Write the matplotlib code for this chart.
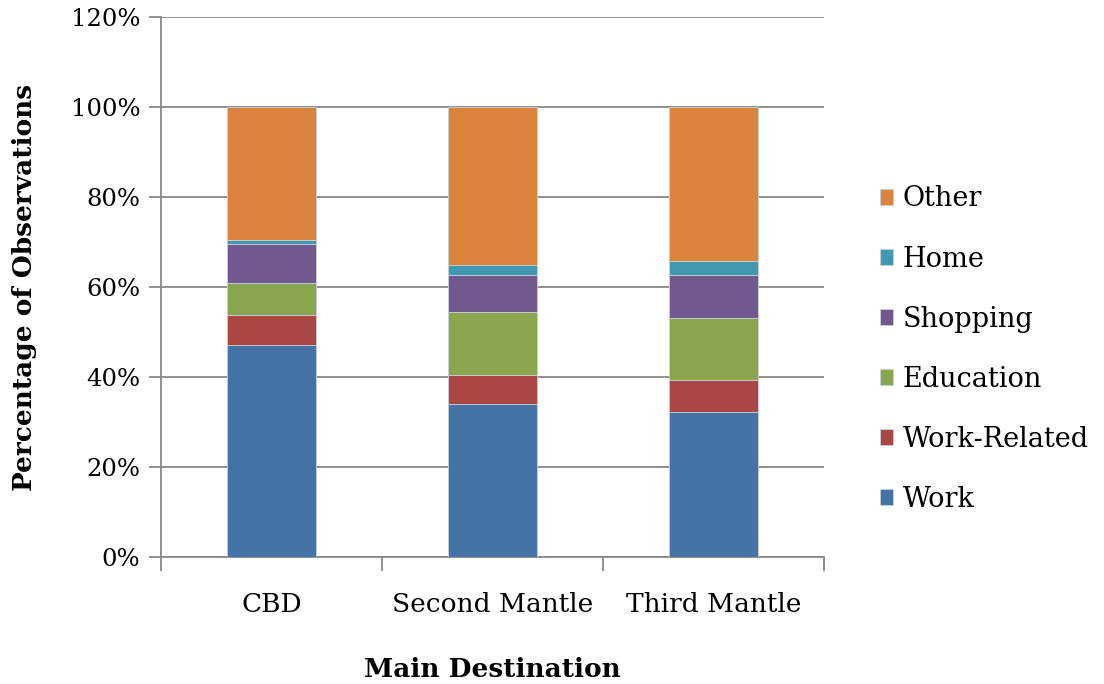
import numpy as np
import matplotlib
matplotlib.use("Agg")
import matplotlib.pyplot as plt
from matplotlib.ticker import FixedLocator, PercentFormatter

# data (percent of observations)
places = ["CBD", "Second Mantle", "Third Mantle"]
purposes = ["Work", "Work-Related", "Education", "Shopping", "Home", "Other"]
work = [47.2, 34.1, 32.2]
work_related = [6.6, 6.3, 7.2]
education = [7.2, 14.1, 13.7]
shopping = [8.5, 8.1, 9.5]
home = [0.9, 2.4, 3.2]
other = [29.6, 35.0, 34.2]
yticks = [0, 20, 40, 60, 80, 100, 120]

colors = ["#4572A7", "#AA4643", "#89A54E", "#71588F", "#4198AF", "#DB843D"]
series = [work, work_related, education, shopping, home, other]

fig = plt.figure(figsize=(11.04, 6.84), dpi=100)
ax = fig.add_axes([0.1458, 0.1857, 0.6006, 0.7894])

x = np.arange(len(places))
bottom = np.zeros(len(places))
handles = []
for name, vals, c in zip(purposes, series, colors):
    b = ax.bar(x, vals, 0.4, bottom=bottom, color=c, edgecolor="#c8d0dc",
               linewidth=0.6, label=name, zorder=3)
    handles.append(b)
    bottom += np.array(vals)

ax.set_xlim(-0.5, 2.5)
ax.set_ylim(0, 120)
ax.set_yticks(yticks)
ax.yaxis.set_major_formatter(PercentFormatter(decimals=0))
ax.set_xticks(x)
ax.set_xticklabels(places)
ax.xaxis.set_minor_locator(FixedLocator([-0.5, 0.5, 1.5, 2.5]))
ax.tick_params(axis="x", which="major", length=0, pad=25)
ax.tick_params(axis="x", which="minor", length=10, width=1.3, color="#888888")
ax.tick_params(axis="y", length=9, width=1.3, color="#888888", pad=6)
ax.grid(axis="y", color="#888888", linewidth=1.3, zorder=0)

for s in ["top", "right"]:
    ax.spines[s].set_visible(False)
for s in ["left", "bottom"]:
    ax.spines[s].set_color("#888888")
    ax.spines[s].set_linewidth(1.3)

for lab in ax.get_xticklabels():
    lab.set_fontfamily("DejaVu Serif")
    lab.set_fontsize(19)
for lab in ax.get_yticklabels():
    lab.set_fontfamily("DejaVu Serif")
    lab.set_fontsize(17.5)

ax.set_ylabel("Percentage of Observations", family="DejaVu Serif",
              fontsize=19, fontweight="bold", labelpad=24)
ax.set_xlabel("Main Destination", family="DejaVu Serif", fontsize=19,
              fontweight="bold", labelpad=29)

leg = ax.legend(handles[::-1], purposes[::-1], loc="center left",
                bbox_to_anchor=(1.047, 0.385), frameon=False,
                prop={"family": "DejaVu Serif", "size": 19.5},
                handlelength=0.5, handleheight=0.5, labelspacing=1.22,
                handletextpad=0.35)

fig.savefig("out.png", dpi=100)
